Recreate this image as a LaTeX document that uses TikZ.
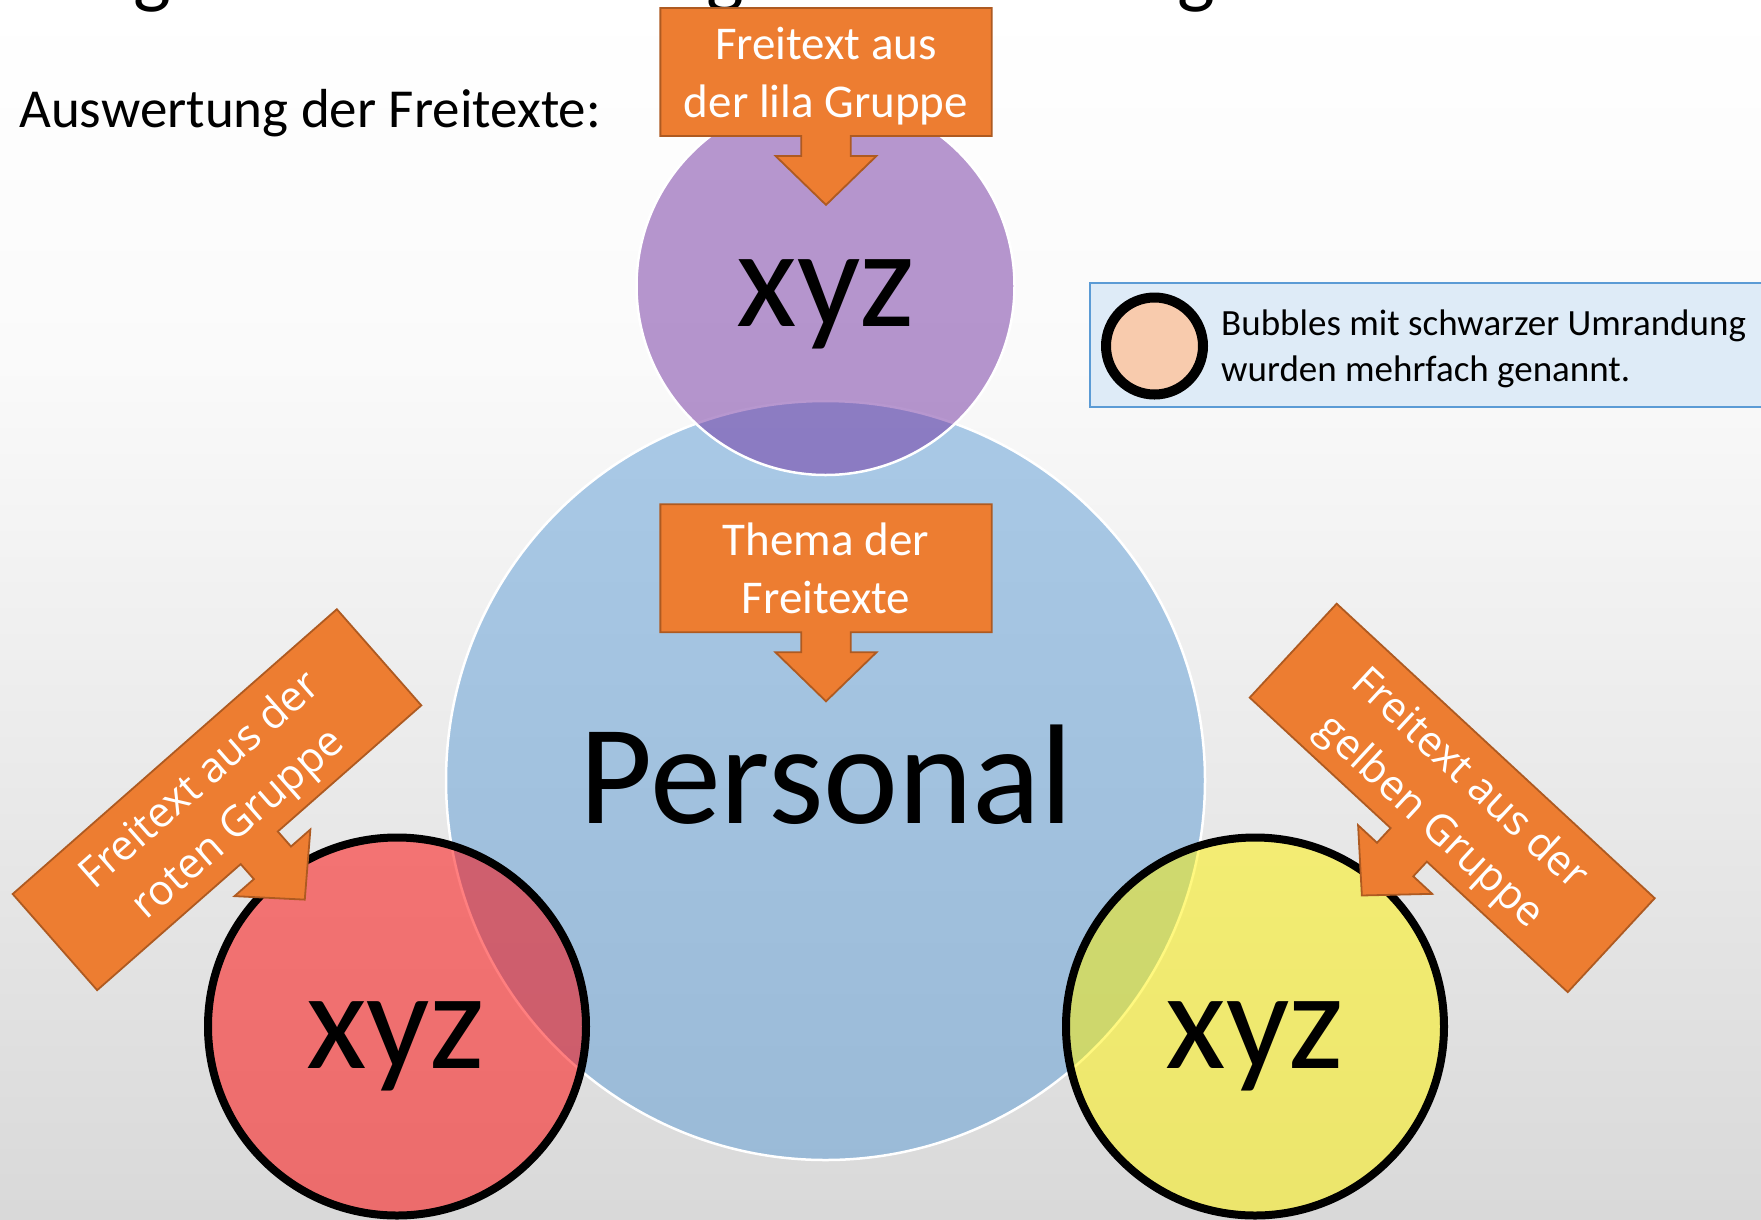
\documentclass[tikz,border=0pt]{standalone}
\usepackage{fontspec}
\setmainfont{Carlito}
\newfontfamily\osans{Open Sans}
\definecolor{corange}{HTML}{ED7D31}
\definecolor{cborder}{HTML}{AE5A21}
\definecolor{cblue}{HTML}{5B9BD5}
\definecolor{cpurple}{HTML}{7030A0}
\definecolor{legfill}{HTML}{DEEBF7}
\definecolor{peach}{HTML}{F8CBAD}
\pgfdeclareverticalshading{bgshade}{100bp}{rgb(0bp)=(0.85,0.85,0.85); rgb(25bp)=(0.85,0.85,0.85); rgb(60bp)=(0.98,0.98,0.98); rgb(75bp)=(1,1,1); rgb(100bp)=(1,1,1)}
% down-pointing callout centred at local origin: #1 half width, #2 half height
\newcommand{\dcallout}[2]{%
  \draw[calloutbox] (-#1,-#2) -- (#1,-#2) -- (#1,#2) -- (24.7,#2) -- (24.7,#2+20)
    -- (50.5,#2+20) -- (0,#2+69) -- (-50.5,#2+20) -- (-24.7,#2+20) -- (-24.7,#2)
    -- (-#1,#2) -- cycle;}
\begin{document}
\begin{tikzpicture}[x=1pt,y=-1pt,
  calloutbox/.style={fill=corange,draw=cborder,line width=1.8pt},
  callouttext/.style={text=white,inner sep=0pt,anchor=base,font=\fontsize{47}{47}\selectfont},
  rottext/.style={text=white,inner sep=0pt,anchor=center,align=center,font=\osans\fontsize{42}{58}\selectfont},
  bigtext/.style={inner sep=0pt,anchor=base,font=\fontsize{140}{140}\selectfont},
  plaintext/.style={inner sep=0pt,anchor=base west},
  titleg/.style={inner sep=0pt,anchor=base,font=\fontsize{80}{80}\selectfont},
  softbubble/.style={draw=white,line width=2.5pt,fill opacity=0.5},
  hardbubble/.style={draw=black,line width=8pt,fill opacity=0.5}]
\useasboundingbox (0,0) rectangle (1761,1219);
\clip (0,0) rectangle (1761,1219);
\shade[shading=bgshade] (0,0) rectangle (1761,1219);

% cut-off title descenders
\node[titleg] (g1) at (152,-2) {g};
\node[titleg] (g2) at (725,-2) {g};
\node[titleg] (g3) at (1196,-2) {g};

\node[plaintext,font=\fontsize{55}{55}\selectfont] (sub) at (19,127) {Auswertung der Freitexte:};

% bubbles
\draw[softbubble,fill=cblue] (825.5,780.5) circle [radius=379.5];
\draw[softbubble,fill=cpurple] (825.5,286) circle [radius=189];
\draw[hardbubble,fill=red] (397,1026.5) circle [radius=189];
\draw[hardbubble,fill=yellow] (1255,1026.5) circle [radius=189];

\node[bigtext] (xyzp) at (825.5,326) {xyz};
\node[bigtext,font=\fontsize{142}{142}\selectfont] (pers) at (826.5,823) {Personal};
\node[bigtext] (xyzr) at (395.3,1068.3) {xyz};
\node[bigtext] (xyzy) at (1255,1068.3) {xyz};

% top callout
\begin{scope}[shift={(826,71.9)}]
  \dcallout{165.65}{64}
\end{scope}
\node[callouttext] (t1a) at (826,59) {Freitext aus};
\node[callouttext] (t1b) at (826,117) {der lila Gruppe};

% middle callout
\begin{scope}[shift={(826,568.3)}]
  \dcallout{165.65}{64}
\end{scope}
\node[callouttext] (t2a) at (826,555) {Thema der};
\node[callouttext] (t2b) at (826,613.3) {Freitexte};

% left rotated callout
\begin{scope}[shift={(217,799.7)},rotate=41.3,transform shape]
  \dcallout{215.75}{64}
  \node[rottext] (t3) at (0,5) {Freitext aus der\\roten Gruppe};
\end{scope}

% right rotated callout
\begin{scope}[shift={(1452.2,797.9)},rotate=-42.8,transform shape]
  \dcallout{216.75}{64}
  \node[rottext] (t4) at (0,5) {Freitext aus der\\gelben Gruppe};
\end{scope}

% legend
\draw[fill=legfill,draw=cblue,line width=2pt] (1089.6,283.3) rectangle (1775,407.3);
\draw[fill=peach,draw=black,line width=10pt] (1154.5,346) circle [radius=48.5];
\node[plaintext,font=\fontsize{37}{37}\selectfont] (leg1) at (1221,335) {Bubbles mit schwarzer Umrandung};
\node[plaintext,font=\fontsize{37}{37}\selectfont] (leg2) at (1221,381) {wurden mehrfach genannt.};
\end{tikzpicture}
\end{document}
